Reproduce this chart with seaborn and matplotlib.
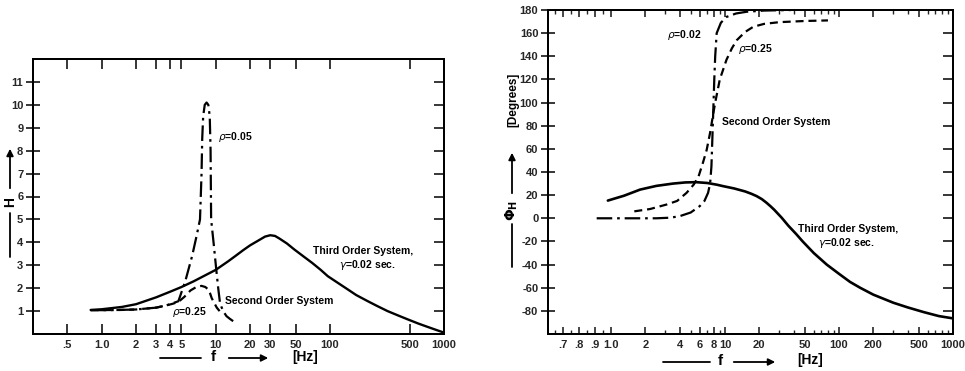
import numpy as np
import pandas as pd
import matplotlib
matplotlib.use("Agg")
import matplotlib.pyplot as plt
import seaborn as sns
from matplotlib.ticker import FixedLocator, FixedFormatter, NullLocator

# ---------------- data ----------------
# Left panel: amplitude ratio H vs frequency f [Hz]
third_mag_f = [0.8, 1.0, 1.5, 2, 3, 4, 5, 6.4, 8, 10, 12.9, 15, 17.4, 20, 24, 27, 30, 33, 36, 42, 49,
               60, 70, 83, 96, 120, 140, 170, 215, 260, 320, 400, 480, 600, 700, 830, 1000]
third_mag_H = [1.05, 1.08, 1.18, 1.3, 1.6, 1.85, 2.05, 2.3, 2.55, 2.8, 3.18, 3.42, 3.66, 3.87, 4.1, 4.25,
               4.31, 4.28, 4.17, 3.95, 3.68, 3.35, 3.1, 2.8, 2.52, 2.2, 1.98, 1.7, 1.43, 1.22, 1.0, 0.8,
               0.64, 0.45, 0.33, 0.2, 0.06]

rho005_f = [0.8, 1.2, 2, 3, 3.7, 4.7, 5.4, 6.2, 6.8, 7.27, 7.5, 7.6, 7.75, 8.0, 8.3, 8.6, 8.85, 9.0,
            9.05, 9.1, 9.6, 10.1, 10.5, 10.9, 11.6, 12.4, 13.3, 14.2]
rho005_H = [1.04, 1.04, 1.07, 1.15, 1.25, 1.43, 2.3, 3.4, 4.3, 5.0, 7.0, 8.5, 9.5, 10.0, 10.1, 10.0, 9.5,
            8.0, 6.5, 5.0, 3.9, 2.8, 2.0, 1.33, 1.0, 0.78, 0.66, 0.56]

rho025_f = [0.8, 1.5, 2, 3, 3.7, 4.2, 4.7, 5.3, 6.0, 6.8, 7.5, 8.1, 8.6, 8.9, 9.2, 9.7, 10.2, 11.0]
rho025_H = [1.04, 1.05, 1.07, 1.15, 1.25, 1.32, 1.4, 1.62, 1.9, 2.06, 2.1, 2.05, 1.94, 1.78, 1.57, 1.35,
            1.15, 0.95]

# Right panel: phase angle [degrees] vs frequency f [Hz]
third_ph_f = [0.98, 1.3, 1.8, 2.5, 3.5, 4.5, 5.6, 7, 8.5, 9.7, 12, 15, 17, 18.9, 21, 23, 25, 27, 31.4,
              36, 42, 48, 60, 78, 100, 125, 153, 200, 300, 400, 550, 750, 1000]
third_ph_d = [15.3, 19.5, 24.8, 28, 30, 31, 31.2, 30.5, 29, 27.7, 25.8, 23.2, 21.2, 19.2, 16.6, 13.6, 10.5,
              7.4, 0.5, -6.5, -13.5, -20, -30, -40, -48, -55, -60, -66, -73, -77, -81, -84.5, -86.5]

rho002_f = [0.91, 1.5, 2.5, 3.3, 4.0, 5.0, 6.0, 6.6, 7.1, 7.4, 7.6, 7.75, 7.9, 8.05, 8.2, 8.45, 9.2,
            10.3, 12.5, 15.5, 22, 38]
rho002_d = [0, 0, 0, 0.5, 1.8, 5, 10.5, 15, 22, 30, 45, 70, 95, 120, 140, 160, 169, 174, 177, 178.5,
            179.5, 180]

rho025p_f = [1.6, 2.2, 3.1, 3.8, 4.6, 5.3, 5.85, 6.4, 6.9, 7.4, 7.9, 8.2, 9.0, 10.3, 11.5, 12.7, 15,
             17.7, 22, 30, 50, 80]
rho025p_d = [6, 8, 12, 15, 22, 29, 36, 48, 59, 74, 91, 100, 120, 137, 147, 154, 161, 165.5, 168, 169.5,
             170.5, 171]

left_xticks = [0.5, 1, 2, 3, 4, 5, 10, 20, 30, 50, 100, 500, 1000]
left_xlabels = [".5", "1.0", "2", "3", "4", "5", "10", "20", "30", "50", "100", "500", "1000"]
left_yticks = list(range(1, 12))

right_xticks = [0.7, 0.8, 0.9, 1, 2, 4, 6, 8, 10, 20, 50, 100, 200, 500, 1000]
right_xlabels = [".7", ".8", ".9", "1.0", "2", "4", "6", "8", "10", "20", "50", "100", "200", "500", "1000"]
right_xminor = [0.65, 0.75, 0.85, 0.95, 3, 5, 7, 9, 30, 40, 60, 70, 80, 90, 300, 400, 600, 700, 800, 900]
right_yticks = list(range(-80, 181, 20))

# ---------------- style ----------------
sns.set_theme(style="ticks")
plt.rcParams["font.family"] = ["Liberation Sans", "DejaVu Sans"]
plt.rcParams["axes.unicode_minus"] = False
plt.rcParams["axes.linewidth"] = 1.4
plt.rcParams["axes.edgecolor"] = "black"

W, H = 965, 371
fig = plt.figure(figsize=(W / 100, H / 100), dpi=100)


def F(px, py):
    return (px / W, 1 - py / H)


def axrect(x0, y0, x1, y1):
    return [x0 / W, 1 - y1 / H, (x1 - x0) / W, (y1 - y0) / H]


ax1 = fig.add_axes(axrect(33, 59, 444, 334))
ax2 = fig.add_axes(axrect(548, 10, 953, 334))

LONG_DASHDOT = (0, (7, 2.2, 1.2, 2.2))
SHORT_DASH = (0, (3.6, 2.2))

# ---------------- left panel ----------------
d_third = pd.DataFrame({"f": third_mag_f, "H": third_mag_H})
d_r05 = pd.DataFrame({"f": rho005_f, "H": rho005_H})
d_r25 = pd.DataFrame({"f": rho025_f, "H": rho025_H})

sns.lineplot(data=d_third, x="f", y="H", ax=ax1, color="black", lw=1.7, sort=False, estimator=None)
sns.lineplot(data=d_r05, x="f", y="H", ax=ax1, color="black", lw=1.6, sort=False, estimator=None,
             linestyle=LONG_DASHDOT)
sns.lineplot(data=d_r25, x="f", y="H", ax=ax1, color="black", lw=1.6, sort=False, estimator=None,
             linestyle=SHORT_DASH)

ax1.set_xscale("log")
ax1.set_xlim(0.25, 1000)
ax1.set_ylim(0, 12)
ax1.xaxis.set_major_locator(FixedLocator(left_xticks))
ax1.xaxis.set_major_formatter(FixedFormatter(left_xlabels))
ax1.xaxis.set_minor_locator(NullLocator())
ax1.set_yticks(left_yticks)
ax1.set_yticklabels([str(v) for v in left_yticks])
ax1.tick_params(axis="x", which="major", direction="in", top=True, bottom=True,
                length=7, width=1.3, labelsize=8, pad=4)
ax1.tick_params(axis="y", direction="inout", length=10, width=1.3, labelsize=8, pad=2)
for lab in ax1.get_xticklabels() + ax1.get_yticklabels():
    lab.set_fontweight("bold")
ax1.set_xlabel("")
ax1.set_ylabel("")
t1 = ax1.twinx()
t1.set_ylim(ax1.get_ylim())
t1.set_yticks(left_yticks)
t1.tick_params(axis="y", direction="in", length=7, width=1.3, labelright=False)
t1.set_ylabel("")

txt = dict(color="black", fontsize=7.5, fontweight="bold")
ax1.text(10.5, 8.6, r"$\rho$=0.05", ha="left", va="center", **txt)
ax1.text(4.1, 0.98, r"$\rho$=0.25", ha="left", va="center", **txt)
ax1.text(12.1, 1.42, "Second Order System", ha="left", va="center", **txt)
ax1.text(194, 3.6, "Third Order System,", ha="center", va="center", **txt)
ax1.text(215, 3.03, r"$\gamma$=0.02 sec.", ha="center", va="center", **txt)

# ---------------- right panel ----------------
K = 1.4


def fwd(x):
    x = np.asarray(x, dtype=float)
    return np.where(x >= 1, np.log10(np.maximum(x, 1e-12)), K * (x - 1))


def inv(y):
    y = np.asarray(y, dtype=float)
    return np.where(y >= 0, 10 ** np.maximum(y, 0), 1 + y / K)


p_third = pd.DataFrame({"f": third_ph_f, "deg": third_ph_d})
p_r02 = pd.DataFrame({"f": rho002_f, "deg": rho002_d})
p_r25 = pd.DataFrame({"f": rho025p_f, "deg": rho025p_d})

sns.lineplot(data=p_third, x="f", y="deg", ax=ax2, color="black", lw=1.9, sort=False, estimator=None)
sns.lineplot(data=p_r02, x="f", y="deg", ax=ax2, color="black", lw=1.6, sort=False, estimator=None,
             linestyle=LONG_DASHDOT)
sns.lineplot(data=p_r25, x="f", y="deg", ax=ax2, color="black", lw=1.6, sort=False, estimator=None,
             linestyle=SHORT_DASH)

ax2.set_xscale("function", functions=(fwd, inv))
ax2.set_xlim(0.605, 1000)
ax2.set_ylim(-100, 180)
ax2.xaxis.set_major_locator(FixedLocator(right_xticks))
ax2.xaxis.set_major_formatter(FixedFormatter(right_xlabels))
ax2.xaxis.set_minor_locator(FixedLocator(right_xminor))
ax2.set_yticks(right_yticks)
ax2.set_yticklabels([str(v) for v in right_yticks])
ax2.tick_params(axis="x", which="major", direction="in", top=True, bottom=True,
                length=5, width=1.2, labelsize=8, pad=4)
ax2.tick_params(axis="x", which="minor", direction="in", top=True, bottom=True,
                length=3, width=1.0)
ax2.tick_params(axis="y", direction="inout", length=10, width=1.3, labelsize=8, pad=2)
for lab in ax2.get_xticklabels() + ax2.get_yticklabels():
    lab.set_fontweight("bold")
ax2.set_xlabel("")
ax2.set_ylabel("")
t2 = ax2.twinx()
t2.set_ylim(ax2.get_ylim())
t2.set_yticks(right_yticks)
t2.tick_params(axis="y", direction="in", length=7, width=1.3, labelright=False)
t2.set_ylabel("")

ax2.text(3.1, 158.5, r"$\rho$=0.02", ha="left", va="center", **txt)
ax2.text(13.1, 146, r"$\rho$=0.25", ha="left", va="center", **txt)
ax2.text(9.5, 83, "Second Order System", ha="left", va="center", **txt)
ax2.text(120, -9.6, "Third Order System,", ha="center", va="center", **txt)
ax2.text(116, -21, r"$\gamma$=0.02 sec.", ha="center", va="center", **txt)

# ---------------- axis titles with arrows ----------------
def line(p0, p1, lw=1.3):
    fig.add_artist(plt.Line2D([p0[0], p1[0]], [p0[1], p1[1]], transform=fig.transFigure,
                              color="black", lw=lw))


def arrow(p0, p1):
    fig.add_artist(matplotlib.patches.FancyArrowPatch(p0, p1, transform=fig.transFigure,
                                                      arrowstyle="-|>", mutation_scale=10,
                                                      color="black", lw=1.3))


lab = dict(color="black", fontweight="bold")
# left: H axis
line(F(10, 257), F(10, 213))
fig.text(*F(10, 202), "H", rotation=90, ha="center", va="center", fontsize=10, **lab)
arrow(F(10, 191), F(10, 146))
# left: f axis
line(F(160, 358), F(201, 358))
fig.text(*F(213, 357), "f", ha="center", va="center", fontsize=11, **lab)
arrow(F(226, 358), F(271, 358))
fig.text(*F(305, 357), "[Hz]", ha="center", va="center", fontsize=10, **lab)

# right: phase axis
fig.text(*F(513, 100), "[Degrees]", rotation=90, ha="center", va="center", fontsize=8.5, **lab)
line(F(512, 267), F(512, 224))
fig.text(*F(512, 210), r"$\mathbf{\Phi_H}$", rotation=90, ha="center", va="center", fontsize=10, **lab)
arrow(F(512, 196), F(512, 150))
# right: f axis
line(F(663, 362), F(710, 362))
fig.text(*F(720, 361), "f", ha="center", va="center", fontsize=11, **lab)
arrow(F(731, 362), F(778, 362))
fig.text(*F(810, 360), "[Hz]", ha="center", va="center", fontsize=10, **lab)

fig.savefig("out.png", dpi=100)
